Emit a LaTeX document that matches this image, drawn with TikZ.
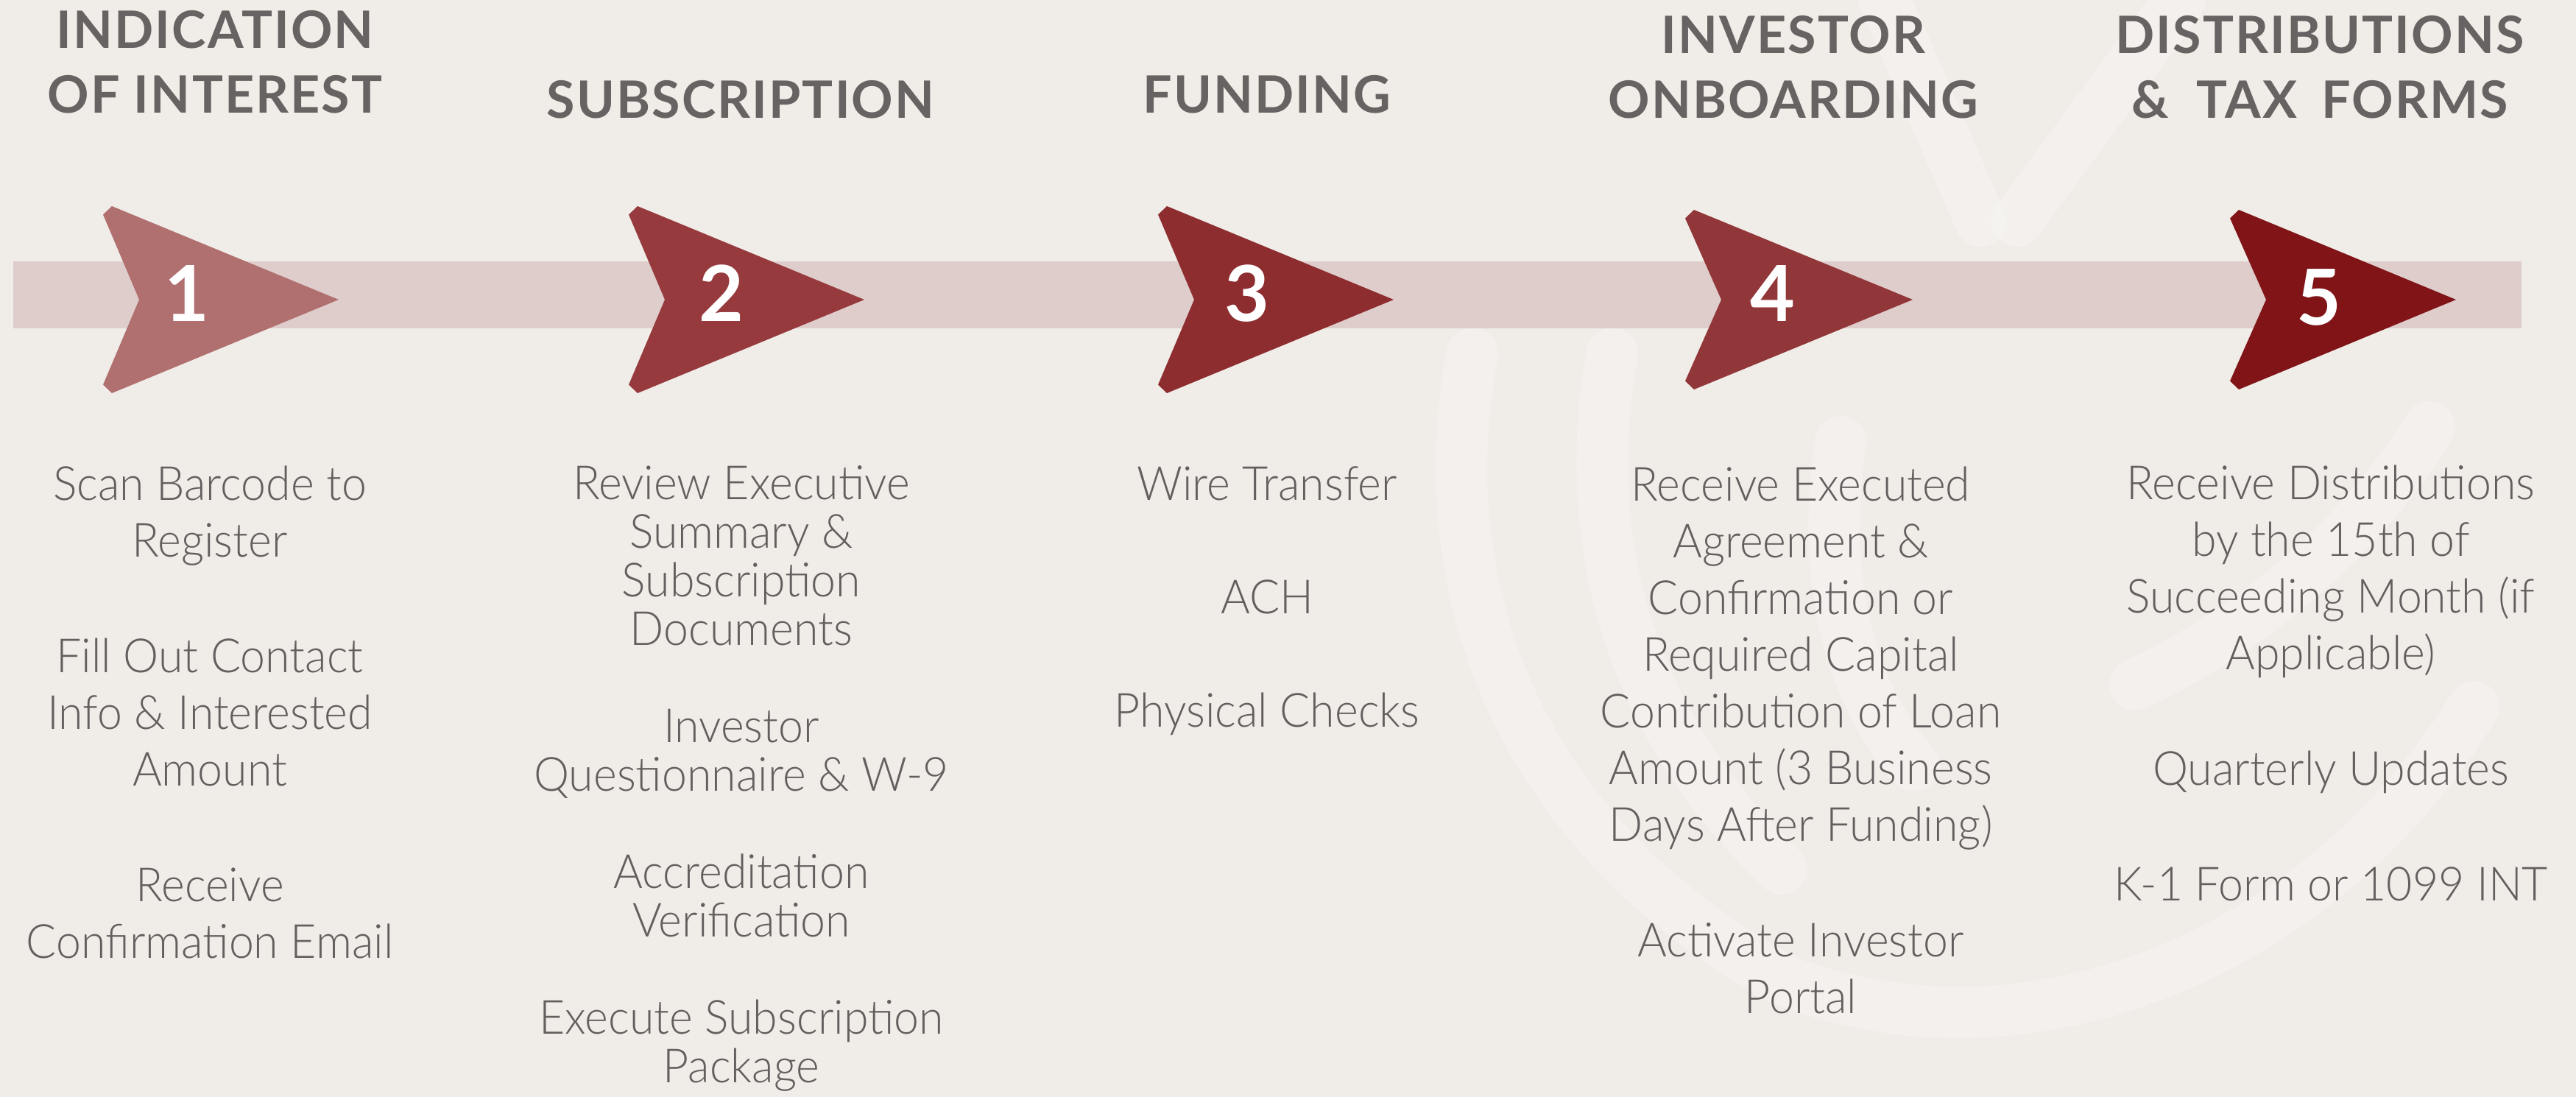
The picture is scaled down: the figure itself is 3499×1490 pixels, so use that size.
\documentclass[tikz,border=0pt]{standalone}
\usepackage{fontspec}
\setmainfont{Lato}
\newfontfamily\headfont{Lato}[LetterSpace=3]
\newfontfamily\bodyfont{Lato Light}[FakeStretch=0.95]
\definecolor{paper}{HTML}{F0EDE8}
\definecolor{band}{HTML}{DDC8C7}
\definecolor{headgray}{HTML}{676363}
\definecolor{textgray}{HTML}{635F5F}
\definecolor{arrowa}{HTML}{B17070}
\definecolor{arrowb}{HTML}{963A3E}
\definecolor{arrowc}{HTML}{8E2D30}
\definecolor{arrowd}{HTML}{913639}
\definecolor{arrowe}{HTML}{801417}
\tikzset{
  heading/.style={font=\headfont\bfseries\fontsize{70}{88}\selectfont,
    text=headgray, align=center, inner sep=0pt, anchor=base},
  steplist/.style={font=\bodyfont\fontsize{64}{77}\selectfont,
    text=textgray, align=center, inner sep=0pt, anchor=base},
  stepnum/.style={font=\headfont\bfseries\fontsize{105}{105}\selectfont,
    text=white, inner sep=0pt, anchor=base},
  wmark/.style={draw=white, opacity=.22, line width=70pt, line cap=round}
}
\newcommand{\itemgap}{\\[80pt]}

\begin{document}
\begin{tikzpicture}[x=1pt,y=-1pt]
  \fill[paper] (0,0) rectangle (3499,1490);
  \useasboundingbox (0,0) rectangle (3499,1490);

  %% faint hand in the background
  \draw[wmark] (2000,480) .. controls (1940,800) and (2060,1130) .. (2420,1330)
    .. controls (2750,1460) and (3150,1300) .. (3360,960);
  \draw[wmark] (2190,480) .. controls (2140,760) and (2230,1000) .. (2420,1180);
  \draw[wmark] (2500,600) .. controls (2470,800) and (2520,950) .. (2600,1040);
  \draw[wmark] (3300,580) .. controls (3200,740) and (3050,860) .. (2900,930);
  \draw[wmark] (2560,0) -- (2690,300);
  \draw[wmark] (2960,0) -- (2740,300);

  %% the band behind the arrows
  \fill[band, fill opacity=.85] (18,355) rectangle (3425,446);

  %% arrows: left x / tip length / half height / colour / number / digit x / digit base
  \foreach \l/\w/\h/\c/\n/\dx/\dy in {140/320/127/arrowa/1/254/436,
      854/320/127/arrowb/2/980/436, 1573/320/127/arrowc/3/1694/436,
      2289/309/122/arrowd/4/2408/436, 3029/307/122/arrowe/5/3150/441}
  {
    \fill[\c] (\l+12,407-\h) -- (\l+\w,407) -- (\l+12,407+\h)
      -- (\l,407+\h-11.5) -- (\l+49,407) -- (\l,407-\h+11.5) -- cycle;
    \node[stepnum] (num\n) at (\dx,\dy) {\n};
  }

  %% headings (a node's base is the baseline of its last line)
  \node[heading] (head1) at (292,154) {INDICATION\\OF INTEREST};
  \node[heading] (head2) at (1006,161) {SUBSCRIPTION};
  \node[heading] (head3) at (1721,154) {FUNDING};
  \node[heading] (head4) at (2436,161) {INVESTOR\\ONBOARDING};
  \node[heading] (head5) at (3151,161) {DISTRIBUTIONS\\\&\hspace{18pt} TAX\hspace{14pt} FORMS};

  %% what happens at each step
  \node[steplist] (list1) at (285,1301) {Scan Barcode to\\Register\itemgap
    Fill Out Contact\\Info \& Interested\\Amount\itemgap
    Receive\\Confirmation Email};
  \node[steplist, font=\bodyfont\fontsize{64}{66}\selectfont] (list2) at (1007,1470)
    {Review Executive\\Summary \&\\Subscription\\Documents\\[66pt]
    Investor\\Questionnaire \& W-9\\[66pt]
    Accreditation\\Verification\\[66pt]
    Execute Subscription\\Package};
  \node[steplist] (list3) at (1721,987) {Wire Transfer\\[77pt]
    ACH\\[77pt] Physical Checks};
  \node[steplist] (list4) at (2446,1376) {Receive Executed\\Agreement \&\\
    Confirmation or\\Required Capital\\Contribution of Loan\\
    Amount (3 Business\\Days After Funding)\itemgap
    Activate Investor\\Portal};
  \node[steplist] (list5) at (3166,1223) {Receive Distributions\\by the 15th of\\
    Succeeding Month (if\\Applicable)\itemgap
    Quarterly Updates\itemgap K-1 Form or 1099 INT};
\end{tikzpicture}
\end{document}
